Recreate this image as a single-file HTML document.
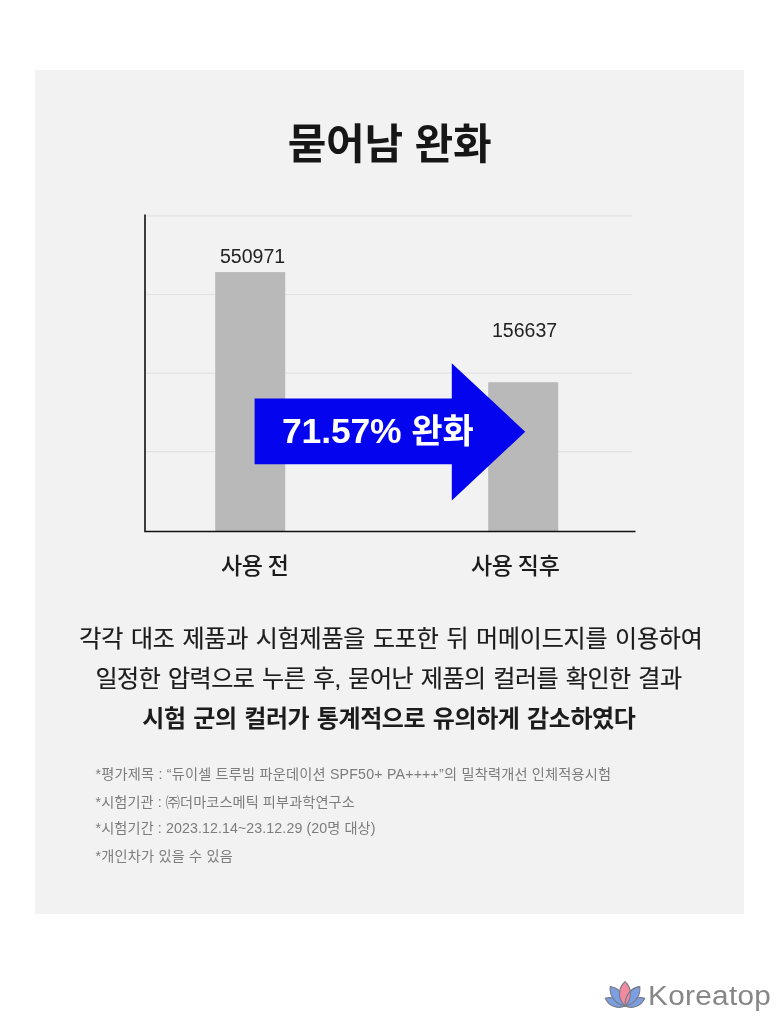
<!DOCTYPE html>
<html lang="ko">
<head>
<meta charset="utf-8">
<title>묻어남 완화</title>
<style>
html,body{margin:0;padding:0;background:#fff;}
body{width:779px;height:1022px;position:relative;overflow:hidden;font-family:"Liberation Sans","Noto Sans CJK KR",sans-serif;color:#1a1a1a;}
.panel{position:absolute;left:35px;top:69.5px;width:709px;height:844.5px;background:#f2f2f2;}
svg.gfx{position:absolute;left:0;top:0;}
.t{position:absolute;white-space:nowrap;line-height:1;}
.title{left:0;width:779px;text-align:center;top:123.5px;font-size:42px;font-weight:700;letter-spacing:-0.3px;word-spacing:0.5px;color:#161616;}
.val{font-size:19.5px;color:#222;}
.lbl{font-size:23px;font-weight:500;color:#1c1c1c;letter-spacing:-0.3px;word-spacing:-1px;}
.arrowtxt{font-size:34px;font-weight:700;color:#fff;}
.body{-webkit-text-stroke:0.2px #1c1c1c;left:0;width:779px;text-align:center;font-size:24px;letter-spacing:-0.2px;word-spacing:1.3px;color:#1c1c1c;}
.bold{font-weight:700;-webkit-text-stroke:0;}
.note{left:95.6px;font-size:14.2px;color:#7c7c7c;letter-spacing:0.2px;}
.logo{font-size:27px;color:#878787;letter-spacing:0.3px;transform:scaleX(1.10);transform-origin:0 0;}
</style>
</head>
<body>
<div class="panel"></div>
<svg class="gfx" width="779" height="1022" viewBox="0 0 779 1022">
  <g stroke="#e2e2e2" stroke-width="1.2">
    <line x1="145" y1="215.9" x2="632" y2="215.9"/>
    <line x1="145" y1="294.5" x2="632" y2="294.5"/>
    <line x1="145" y1="373.1" x2="632" y2="373.1"/>
    <line x1="145" y1="451.7" x2="632" y2="451.7"/>
  </g>
  <rect x="215.2" y="272.1" width="70" height="259" fill="#b9b9b9"/>
  <rect x="488.2" y="382.2" width="70" height="149" fill="#b9b9b9"/>
  <path d="M145 214.5 V531.5 H635.5" fill="none" stroke="#111" stroke-width="1.6"/>
  <path d="M254.6 398.5 H451.8 V363.3 L525.2 431.8 L451.8 500.5 V464.3 H254.6 Z" fill="#0404ee"/>
</svg>
<div class="t title">묻어남 완화</div>
<div class="t val" style="left:220px;top:247px;">550971</div>
<div class="t val" style="left:492px;top:320.8px;">156637</div>
<div class="t arrowtxt" style="left:282px;top:414px;"><span style="font-size:35.5px;letter-spacing:-0.15px;line-height:0">71.57% </span>완화</div>
<div class="t lbl" style="left:221px;top:555px;">사용 전</div>
<div class="t lbl" style="left:471px;top:555px;">사용 직후</div>
<div class="t body" style="top:627.1px;left:1.5px;">각각 대조 제품과 시험제품을 도포한 뒤 머메이드지를 이용하여</div>
<div class="t body" style="top:666.7px;left:-1px;letter-spacing:-0.43px;">일정한 압력으로 누른 후, 묻어난 제품의 컬러를 확인한 결과</div>
<div class="t body bold" style="top:706.5px;left:-0.6px;letter-spacing:-0.4px;">시험 군의 컬러가 통계적으로 유의하게 감소하였다</div>
<div class="t note" style="top:767.1px;">*평가제목 : “듀이셀 트루빔 파운데이션 SPF50+ PA++++”의 밀착력개선 인체적용시험</div>
<div class="t note" style="top:794.5px;letter-spacing:0.08px;">*시험기관 : ㈜더마코스메틱 피부과학연구소</div>
<div class="t note" style="top:821.1px;letter-spacing:0.1px;">*시험기간 : 2023.12.14~23.12.29 (20명 대상)</div>
<div class="t note" style="top:848.9px;">*개인차가 있을 수 있음</div>
<svg class="gfx" width="779" height="1022" viewBox="0 0 779 1022">
  <g stroke="#787b88" stroke-width="1.15" stroke-linejoin="round">
    <path d="M625 1006 C619 1009 609 1007 605.3 998.2 C611 996.5 620 999 625 1006 Z" fill="#7b9fe0"/>
    <path d="M625 1006 C631 1009 641 1007 644.7 998.2 C639 996.5 630 999 625 1006 Z" fill="#7b9fe0"/>
    <path d="M625 1006 C617 1004.5 609 997.5 610.2 986.6 C617 987.5 625 993 625 1006 Z" fill="#7b9fe0"/>
    <path d="M625 1006 C633 1004.5 641 997.5 639.8 986.6 C633 987.5 625 993 625 1006 Z" fill="#7b9fe0"/>
    <path d="M625 981.6 C617.8 988 617.6 999 625 1006 C632.4 999 632.2 988 625 981.6 Z" fill="#f28ba0"/>
    <path d="M639.8 986.6 C633 987.5 625 993 625 1006" fill="none"/>
  </g>
</svg>
<div class="t logo" style="left:647.8px;top:983px;">Koreatop</div>
</body>
</html>
